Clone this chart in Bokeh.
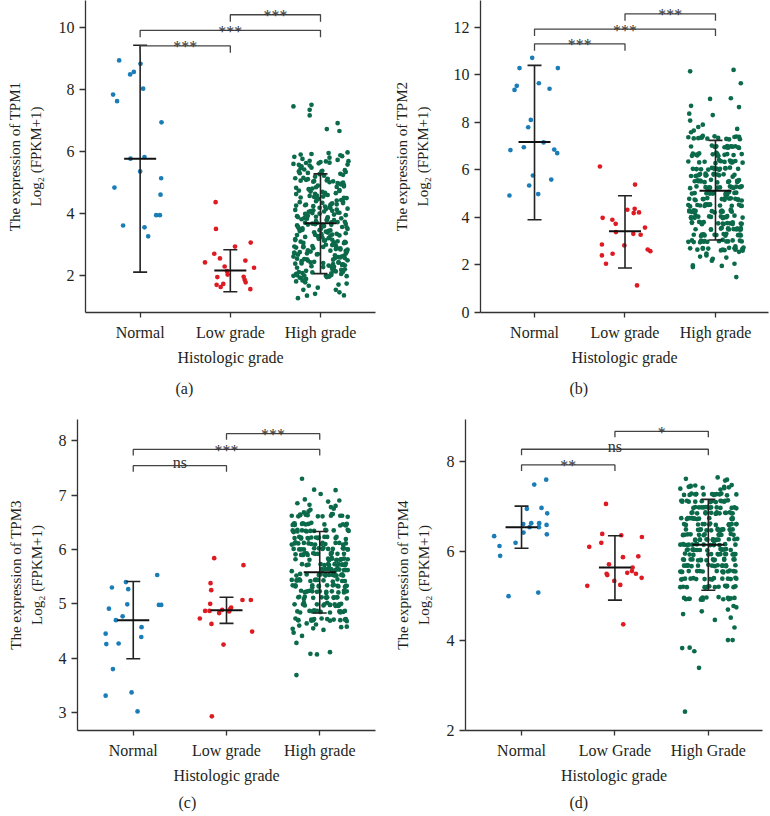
from bokeh.plotting import figure
from bokeh.layouts import column, row
from bokeh.models import Range1d, FixedTicker, Label, Title
from bokeh.embed import file_html
from bokeh.resources import INLINE

# ---------------- data ----------------
GROUPS = ["Normal", "Low grade", "High grade"]
GROUPS_D = ["Normal", "Low Grade", "High Grade"]
GENES = ["TPM1", "TPM2", "TPM3", "TPM4"]
CAPTIONS = ["(a)", "(b)", "(c)", "(d)"]
X_TITLE = "Histologic grade"

# panel (a) TPM1
N_A_Y = [8.93, 8.82, 8.48, 8.56, 8.02, 7.83, 7.62, 6.94, 5.77, 5.82, 5.36, 5.14, 4.84, 4.61, 3.95, 3.95, 3.62, 3.56, 3.27]
N_A_DX = [-0.233, 0.004, -0.111, -0.07, 0.033, -0.30, -0.256, 0.237, -0.107, 0.048, 0.0, 0.233, -0.285, 0.226, 0.178, 0.219, -0.189, 0.048, 0.089]
L_A_Y = [4.37, 3.51, 2.94, 3.07, 2.71, 2.56, 2.43, 2.49, 2.30, 2.26, 2.15, 1.96, 1.97, 1.87, 1.74, 1.79, 1.71, 1.64, 1.57, 2.04]
L_A_DX = [-0.163, -0.159, 0.052, 0.226, -0.178, -0.115, -0.281, 0.167, -0.063, 0.263, -0.037, -0.144, 0.148, 0.159, -0.078, 0.170, -0.152, -0.107, 0.222, -0.03]
H_A_Y = [
    3.72, 1.28, 4.55, 2.21, 5.03, 2.95, 3.30, 5.62, 2.58, 4.12, 1.96, 3.51, 4.79, 2.36, 3.90, 5.80, 3.10, 4.30, 2.75, 5.35,
    2.16, 4.34, 5.92, 3.14, 1.75, 4.74, 2.52, 3.66, 5.28, 2.01, 3.87, 2.91, 4.98, 3.47, 2.71, 5.70, 4.07, 2.40, 3.33, 4.51,
    4.81, 2.60, 7.45, 3.29, 1.36, 5.38, 2.19, 3.92, 2.97, 4.58, 2.33, 3.53, 5.69, 2.78, 4.15, 1.94, 3.08, 5.05, 3.74, 4.27,
    3.49, 5.85, 2.39, 4.09, 1.62, 3.11, 5.31, 2.77, 4.52, 2.00, 3.68, 4.76, 2.55, 5.64, 2.14, 3.86, 4.35, 2.94, 5.00, 3.32,
    2.24, 7.34, 3.95, 1.85, 4.60, 2.68, 3.35, 5.27, 2.06, 4.29, 3.13, 5.58, 2.89, 3.64, 4.83, 2.42, 4.06, 5.07, 3.44, 2.57,
    4.40, 1.37, 3.06, 5.95, 2.62, 3.79, 2.31, 4.96, 3.55, 2.12, 5.40, 2.82, 4.18, 3.26, 5.73, 2.47, 4.67, 1.99, 3.71, 2.99,
    3.62, 2.28, 6.66, 4.71, 1.55, 3.18, 5.12, 2.69, 4.38, 3.84, 2.03, 5.46, 2.50, 3.40, 4.13, 2.92, 5.66, 2.35, 4.57, 3.00,
    5.88, 2.73, 4.21, 1.79, 3.37, 4.90, 2.18, 3.58, 5.22, 2.44, 4.02, 3.16, 5.52, 2.64, 3.93, 1.97, 4.63, 2.86, 3.27, 4.44,
    2.09, 3.81, 7.16, 4.50, 1.42, 2.99, 5.36, 3.24, 4.73, 2.54, 3.46, 5.60, 2.37, 4.24, 3.02, 5.09, 2.80, 3.70, 4.04, 2.26,
    4.62, 1.68, 3.57, 5.90, 2.30, 4.19, 2.84, 5.15, 3.39, 2.06, 4.86, 3.76, 2.59, 5.48, 3.09, 4.37, 2.41, 3.97, 2.72, 5.01,
    3.15, 6.91, 2.45, 4.88, 1.90, 3.61, 2.22, 5.30, 2.79, 4.08, 3.42, 5.76, 2.61, 4.48, 3.85, 2.02, 4.28, 2.96, 3.67, 5.11,
    2.66, 4.45, 1.47, 5.83, 3.21, 3.99, 2.13, 5.55, 4.70, 2.90, 3.52, 2.38, 5.19, 4.16, 1.93, 3.78, 2.53, 4.92, 3.28, 4.31,
    5.06, 2.34, 7.50, 3.60, 1.72, 4.26, 2.81, 5.42, 3.07, 4.54, 2.17, 3.89, 5.68, 2.63, 4.78, 3.34, 2.00, 3.73, 4.11, 2.88,
    3.88, 1.55, 5.97, 2.49, 4.66, 3.19, 5.25, 2.76, 4.33, 2.11, 3.56, 5.63, 2.93, 4.03, 3.31, 1.99, 4.85, 2.57, 3.48, 5.04,
    2.43, 4.94, 1.82, 6.72, 3.25, 4.42, 2.70, 5.34, 3.82, 2.08, 4.64, 3.05, 5.57, 2.29, 3.65, 4.23, 2.85, 5.14, 3.45, 4.00,
]
MEAN_A = [5.77, 2.17, 3.69]
LO_A = [2.12, 1.49, 2.07]
HI_A = [9.42, 2.84, 5.28]
SIG_A = ["***", "***", "***"]

# panel (b) TPM2
N_B_Y = [10.71, 10.28, 10.28, 9.64, 9.53, 9.36, 9.41, 8.10, 7.79, 7.15, 6.83, 6.95, 6.85, 6.70, 5.76, 5.34, 5.59, 4.92, 4.98]
N_B_DX = [-0.026, -0.166, 0.258, 0.048, -0.196, -0.221, 0.166, -0.041, -0.070, 0.100, -0.266, -0.118, 0.218, 0.251, -0.018, -0.059, 0.185, -0.277, 0.041]
L_B_Y = [6.14, 5.38, 3.98, 3.90, 3.73, 4.32, 4.36, 4.18, 4.21, 3.57, 3.38, 3.31, 3.27, 2.86, 2.82, 2.65, 2.58, 2.40, 2.47, 2.05, 1.14]
L_B_DX = [-0.277, 0.111, -0.247, -0.140, -0.103, 0.026, 0.107, 0.096, 0.155, 0.221, -0.100, 0.092, 0.173, -0.255, -0.007, 0.251, 0.280, -0.255, -0.137, -0.210, 0.133]
H_B_Y = [
    5.05, 1.91, 6.60, 3.28, 4.52, 7.33, 2.70, 5.80, 3.75, 10.14, 4.27, 6.30, 2.98, 5.49, 4.02, 6.95, 3.50, 5.27, 4.78, 6.05,
    3.02, 5.53, 2.40, 6.38, 4.71, 7.65, 3.54, 5.00, 2.64, 6.69, 4.24, 5.74, 3.79, 7.41, 4.49, 3.24, 6.00, 5.30, 4.05, 6.92,
    4.81, 10.20, 2.97, 6.07, 3.71, 5.25, 1.49, 6.59, 4.33, 7.02, 3.30, 5.56, 2.73, 4.55, 6.36, 3.98, 7.28, 5.03, 3.48, 5.82,
    6.28, 3.53, 8.07, 4.96, 2.26, 5.71, 3.27, 6.66, 4.09, 2.61, 5.22, 7.38, 3.03, 4.74, 6.99, 3.81, 5.47, 4.29, 6.04, 4.55,
    2.99, 4.48, 9.64, 5.76, 3.74, 1.98, 6.98, 4.21, 5.29, 3.22, 6.41, 2.66, 5.06, 7.30, 3.97, 6.62, 4.77, 3.56, 5.52, 6.09,
    5.58, 2.55, 7.80, 4.00, 6.35, 3.49, 5.01, 2.78, 6.71, 4.30, 3.25, 7.43, 4.84, 5.83, 3.72, 6.03, 4.50, 5.31, 2.95, 6.94,
    3.79, 6.57, 2.05, 5.27, 9.01, 4.46, 3.05, 6.08, 4.73, 7.36, 3.31, 5.74, 2.68, 5.02, 6.31, 4.03, 6.96, 3.52, 5.48, 4.24,
    6.99, 4.25, 2.62, 5.55, 3.49, 8.30, 4.79, 6.04, 3.00, 5.24, 7.31, 3.76, 6.64, 4.53, 2.71, 5.81, 4.01, 6.33, 3.27, 5.04,
    4.52, 1.96, 6.34, 3.73, 8.98, 5.30, 2.96, 6.67, 4.07, 5.79, 3.23, 7.37, 4.76, 2.69, 5.49, 6.02, 3.55, 4.26, 6.97, 5.00,
    5.26, 3.29, 7.72, 4.72, 2.31, 6.05, 3.99, 5.53, 2.65, 6.98, 4.49, 3.48, 6.37, 5.77, 3.02, 4.22, 7.34, 5.07, 3.78, 6.63,
    2.70, 6.32, 4.04, 8.64, 5.51, 3.26, 7.00, 4.75, 2.99, 5.84, 3.53, 6.61, 4.28, 5.03, 7.40, 3.77, 6.06, 4.55, 5.28, 2.68,
    6.39, 2.18, 5.03, 8.36, 3.72, 4.50, 6.95, 3.00, 5.80, 4.24, 7.32, 3.51, 5.25, 2.66, 6.03, 4.77, 3.28, 5.57, 6.65, 4.01,
    4.27, 7.29, 2.48, 5.77, 3.51, 8.69, 4.98, 6.31, 3.24, 5.26, 2.72, 6.68, 4.04, 5.54, 3.80, 6.99, 4.52, 3.03, 6.01, 4.78,
    3.97, 5.52, 2.60, 7.90, 4.80, 6.07, 3.25, 5.02, 6.66, 2.97, 4.48, 7.35, 3.75, 5.79, 4.23, 6.33, 3.50, 5.27, 2.64, 6.93,
    5.76, 3.49, 7.58, 4.27, 2.35, 6.36, 5.00, 3.74, 6.62, 2.99, 4.53, 7.39, 3.27, 5.51, 4.77, 6.04, 2.70, 5.23, 4.00, 6.97,
]
MEAN_B = [7.17, 3.42, 5.12]
LO_B = [3.90, 1.87, 3.05]
HI_B = [10.39, 4.91, 7.24]
SIG_B = ["***", "***", "***"]

# panel (c) TPM3
N_C_Y = [5.40, 5.30, 5.27, 5.53, 4.91, 4.99, 4.98, 4.98, 4.77, 4.70, 4.57, 4.45, 4.39, 4.26, 4.27, 3.80, 3.31, 3.37, 3.02]
N_C_DX = [-0.079, -0.229, -0.054, 0.257, -0.261, -0.064, 0.275, 0.300, -0.114, -0.186, 0.089, -0.296, 0.086, -0.289, -0.157, -0.218, -0.296, -0.018, 0.046]
L_C_Y = [5.84, 5.71, 5.38, 5.25, 5.00, 5.07, 5.07, 4.87, 4.87, 4.89, 4.93, 4.90, 4.83, 4.73, 4.63, 4.49, 4.25, 2.93, 4.86]
L_C_DX = [-0.132, 0.182, -0.171, -0.164, -0.175, 0.171, 0.261, -0.229, -0.182, -0.046, 0.050, 0.036, -0.079, -0.286, -0.161, 0.275, -0.032, -0.157, 0.029]
H_C_Y = [
    5.64, 3.69, 6.12, 4.71, 5.34, 7.30, 4.86, 5.92, 4.99, 6.47, 5.11, 6.00, 5.23, 6.62, 5.44, 5.80, 6.23, 5.52, 6.35, 5.73,
    5.21, 6.09, 4.08, 5.71, 4.68, 6.36, 5.41, 7.10, 4.84, 5.90, 5.02, 6.48, 5.33, 6.02, 5.62, 6.20, 4.97, 5.55, 6.65, 5.83,
    6.22, 4.96, 5.60, 4.11, 6.46, 5.12, 5.82, 4.73, 7.09, 5.44, 6.01, 5.24, 6.34, 4.87, 5.54, 6.61, 5.35, 5.93, 5.71, 6.12,
    4.85, 5.72, 6.33, 5.23, 4.07, 5.92, 6.64, 5.10, 5.45, 6.10, 4.69, 6.90, 5.32, 5.81, 6.21, 4.99, 5.64, 6.45, 5.52, 6.02,
    5.53, 6.47, 4.72, 6.00, 5.34, 4.28, 5.80, 6.22, 5.00, 6.92, 5.43, 6.60, 4.86, 5.63, 6.11, 5.21, 5.90, 6.35, 5.12, 5.73,
    6.09, 5.24, 4.41, 5.83, 6.62, 5.11, 6.34, 4.70, 5.54, 6.85, 5.42, 5.93, 4.98, 6.21, 5.70, 4.84, 6.46, 5.33, 6.00, 5.62,
    5.34, 6.01, 4.98, 6.82, 5.62, 4.47, 6.23, 5.44, 4.85, 6.64, 5.91, 5.13, 6.36, 4.70, 5.81, 6.47, 5.23, 5.72, 6.11, 5.52,
    6.44, 4.54, 5.71, 5.09, 6.19, 4.87, 6.75, 5.43, 6.03, 5.32, 4.71, 5.94, 6.63, 5.21, 6.33, 5.64, 4.99, 6.12, 5.53, 5.82,
    5.90, 5.20, 6.70, 4.58, 6.34, 5.52, 4.86, 6.10, 5.63, 6.48, 4.69, 5.44, 6.02, 5.30, 6.65, 4.97, 5.74, 6.22, 5.12, 5.82,
    4.99, 6.21, 5.54, 4.60, 6.78, 5.33, 6.00, 5.73, 4.72, 6.45, 5.12, 5.92, 6.62, 5.42, 4.87, 6.11, 5.63, 6.35, 5.22, 5.81,
    6.32, 5.45, 4.55, 6.02, 5.13, 7.02, 5.83, 4.70, 6.47, 5.24, 5.64, 6.20, 4.96, 6.61, 5.53, 5.91, 4.84, 6.10, 5.33, 5.71,
    5.55, 4.62, 6.12, 5.34, 6.88, 5.02, 6.46, 5.72, 4.73, 6.23, 5.43, 6.01, 4.88, 5.82, 6.64, 5.12, 6.34, 5.62, 5.22, 5.93,
    6.00, 5.31, 6.73, 4.52, 5.73, 6.21, 4.98, 5.90, 6.44, 5.11, 4.71, 5.52, 6.36, 5.42, 6.63, 4.85, 6.09, 5.64, 5.23, 5.81,
    5.12, 6.35, 5.62, 4.64, 6.80, 5.44, 6.02, 4.70, 5.84, 6.49, 5.23, 5.93, 6.61, 4.99, 6.13, 5.53, 4.86, 5.72, 6.22, 5.34,
    5.81, 4.57, 6.45, 5.22, 6.68, 5.63, 4.99, 6.11, 5.43, 6.62, 4.72, 5.92, 6.33, 5.12, 5.54, 6.23, 4.86, 6.01, 5.73, 5.32,
]
MEAN_C = [4.70, 4.88, 5.58]
LO_C = [3.99, 4.64, 4.83]
HI_C = [5.41, 5.12, 6.33]
SIG_C = ["ns", "***", "***"]

# panel (d) TPM4
N_D_Y = [7.60, 7.49, 6.95, 6.97, 6.85, 6.61, 6.63, 6.63, 6.54, 6.54, 6.59, 6.42, 6.38, 6.34, 6.19, 6.12, 5.90, 5.00, 5.08]
N_D_DX = [0.264, 0.136, 0.057, 0.214, 0.275, 0.018, 0.104, 0.189, 0.086, 0.186, 0.268, 0.021, 0.271, -0.293, -0.064, -0.236, -0.229, -0.139, 0.179]
L_D_Y = [7.06, 6.39, 6.36, 6.32, 6.10, 6.19, 5.87, 5.89, 5.71, 5.64, 5.56, 5.50, 5.47, 5.52, 5.50, 5.41, 5.34, 5.23, 5.25, 4.37]
L_D_DX = [-0.096, -0.136, 0.068, 0.289, -0.275, -0.146, 0.086, 0.250, -0.064, 0.189, 0.182, -0.089, -0.082, 0.132, 0.225, 0.286, -0.007, -0.296, 0.057, 0.089]
H_D_Y = [
    6.14, 2.42, 6.86, 5.20, 6.49, 7.45, 5.55, 6.27, 4.93, 7.13, 5.81, 6.61, 5.38, 6.03, 7.27, 5.69, 6.38, 5.94, 6.74, 6.97,
    5.92, 6.72, 3.40, 6.25, 5.41, 7.62, 6.04, 4.97, 6.59, 5.67, 7.10, 6.36, 5.22, 6.99, 5.82, 6.16, 7.28, 5.56, 6.47, 6.85,
    6.48, 5.23, 7.40, 5.93, 3.77, 6.62, 5.57, 6.15, 7.11, 5.38, 6.87, 4.94, 6.28, 5.80, 7.26, 6.03, 5.68, 6.98, 6.37, 6.74,
    5.70, 6.39, 3.84, 6.97, 5.19, 6.05, 7.47, 5.94, 6.74, 5.40, 6.26, 7.14, 4.96, 6.50, 5.83, 7.29, 6.14, 5.54, 6.85, 6.61,
    7.12, 5.56, 6.27, 3.85, 6.84, 5.95, 7.58, 5.21, 6.60, 6.04, 5.37, 6.96, 4.92, 6.37, 5.82, 7.25, 6.16, 5.67, 6.72, 6.49,
    6.36, 4.02, 5.82, 7.28, 6.15, 5.39, 6.73, 7.43, 5.22, 6.59, 5.94, 6.99, 4.98, 6.47, 5.69, 7.11, 6.26, 5.55, 6.87, 6.05,
    5.81, 6.98, 4.02, 6.48, 7.44, 5.54, 6.25, 5.20, 6.73, 6.03, 7.27, 5.68, 6.61, 4.95, 7.13, 6.38, 5.93, 5.38, 6.85, 6.14,
    6.60, 5.37, 7.65, 6.04, 4.30, 6.87, 5.68, 6.37, 7.12, 5.22, 6.26, 5.94, 4.94, 6.74, 7.27, 5.56, 6.16, 5.81, 6.99, 6.48,
    5.93, 4.47, 6.72, 6.15, 7.42, 5.53, 6.49, 7.10, 5.39, 6.86, 6.26, 5.20, 6.97, 5.80, 7.29, 6.03, 4.96, 6.38, 5.67, 6.61,
    6.27, 7.28, 4.52, 5.69, 6.85, 6.02, 5.39, 7.46, 6.59, 5.21, 6.16, 6.98, 4.93, 6.37, 5.82, 7.13, 5.94, 5.55, 6.73, 6.48,
    7.11, 5.94, 4.66, 6.49, 5.40, 6.74, 7.38, 6.14, 5.22, 6.60, 5.80, 7.26, 6.04, 4.97, 6.87, 5.68, 6.37, 5.56, 6.98, 6.25,
    5.55, 6.61, 4.70, 7.13, 6.26, 5.82, 7.48, 6.03, 5.38, 6.86, 5.68, 6.48, 4.92, 7.27, 6.15, 5.20, 6.73, 5.93, 6.99, 6.38,
    6.04, 4.78, 6.98, 5.68, 7.60, 6.37, 5.21, 6.74, 5.93, 7.12, 6.49, 5.39, 6.16, 4.95, 7.28, 6.60, 5.55, 6.86, 5.81, 6.27,
    6.84, 5.39, 4.75, 6.26, 7.41, 5.80, 6.61, 5.20, 7.13, 6.03, 5.69, 6.97, 6.47, 4.96, 7.26, 5.94, 6.15, 5.56, 6.74, 6.37,
    5.68, 6.49, 4.60, 7.27, 6.15, 5.23, 6.85, 5.94, 7.44, 6.38, 5.55, 6.72, 4.93, 6.04, 7.11, 5.82, 6.60, 5.38, 6.98, 6.26,
]
MEAN_D = [6.54, 5.64, 6.15]
LO_D = [6.07, 4.91, 5.13]
HI_D = [7.01, 6.35, 7.16]
SIG_D = ["**", "ns", "*"]

# horizontal jitter of the high-grade points (read as spread, shared by panels)
JIT_HIGH = [
    0.12, -0.25, 0.03, 0.27, -0.08, -0.19, 0.21, -0.02, 0.16, -0.28, 0.07, 0.30, -0.13, 0.24, -0.05, 0.10, -0.22, 0.18, -0.29, 0.01,
    -0.16, 0.25, -0.10, 0.05, 0.29, -0.24, 0.14, -0.06, 0.22, -0.18, 0.08, -0.27, 0.19, -0.01, 0.28, -0.12, 0.04, -0.21, 0.13, 0.26,
    -0.09, 0.20, -0.30, 0.11, -0.15, 0.02, 0.23, -0.26, 0.17, -0.04, 0.09, -0.20, 0.31, -0.11, 0.06, -0.23, 0.15, -0.07, 0.27, -0.17,
    0.00, 0.24, -0.28, 0.13, -0.03, 0.19, -0.14, 0.29, -0.22, 0.06, -0.09, 0.21, -0.26, 0.10, 0.17, -0.18, 0.02, -0.29, 0.25, -0.06,
    0.14, -0.12, 0.28, -0.20, 0.08, -0.25, 0.18, -0.01, 0.23, -0.16, 0.04, 0.30, -0.08, 0.12, -0.27, 0.20, -0.13, 0.07, -0.23, 0.16,
    -0.05, 0.26, -0.19, 0.09, -0.30, 0.15, -0.10, 0.22, 0.01, -0.24, 0.27, -0.14, 0.11, -0.02, 0.19, -0.21, 0.05, 0.29, -0.17, 0.13,
    -0.26, 0.03, 0.21, -0.11, 0.17, -0.28, 0.08, -0.04, 0.25, -0.15, 0.12, -0.22, 0.30, -0.07, 0.18, -0.19, 0.00, 0.24, -0.12, 0.06,
    0.22, -0.29, 0.10, -0.17, 0.28, -0.03, 0.15, -0.25, 0.04, 0.20, -0.09, 0.13, -0.21, 0.26, -0.14, 0.09, -0.27, 0.17, -0.01, 0.23,
    -0.20, 0.07, -0.12, 0.29, -0.06, 0.16, -0.24, 0.02, 0.21, -0.18, 0.11, -0.30, 0.25, -0.08, 0.14, -0.16, 0.28, -0.04, 0.19, -0.26,
    0.05, -0.13, 0.24, -0.22, 0.12, -0.01, 0.30, -0.19, 0.08, -0.27, 0.18, -0.05, 0.22, -0.10, 0.27, -0.23, 0.03, 0.15, -0.15, 0.10,
    -0.28, 0.19, -0.07, 0.26, -0.16, 0.01, 0.13, -0.23, 0.29, -0.11, 0.06, -0.20, 0.17, -0.02, 0.23, -0.26, 0.11, -0.09, 0.28, -0.14,
    0.16, -0.04, 0.21, -0.29, 0.09, -0.17, 0.25, -0.12, 0.02, 0.18, -0.24, 0.14, -0.06, 0.30, -0.21, 0.07, -0.15, 0.26, -0.03, 0.12,
    -0.22, 0.27, -0.10, 0.04, 0.20, -0.27, 0.11, -0.18, 0.28, -0.07, 0.15, -0.25, 0.06, 0.24, -0.13, 0.01, -0.30, 0.19, -0.08, 0.22,
    0.08, -0.19, 0.30, -0.14, 0.17, -0.02, 0.25, -0.23, 0.13, -0.09, 0.29, -0.16, 0.03, 0.21, -0.26, 0.10, -0.05, 0.27, -0.20, 0.14,
    -0.11, 0.23, -0.27, 0.07, -0.17, 0.18, -0.03, 0.28, -0.21, 0.12, -0.06, 0.26, -0.24, 0.15, -0.14, 0.05, 0.22, -0.28, 0.09, -0.01,
]

PAIRS = [(0, 1), (0, 2), (1, 2)]

# ---------------- layout / style ----------------
FONT = "Liberation Serif"
TXT = "#231f20"
AX = "#333333"
COLORS = ["#1a7db8", "#de1b22", "#0b6a49"]
FIG_W, FIG_H = 385, 408

PANELS = [
    dict(gene=GENES[0], cap=CAPTIONS[0], labels=GROUPS, ys=[N_A_Y, L_A_Y, H_A_Y], dxs=[N_A_DX, L_A_DX, JIT_HIGH],
         mean=MEAN_A, lo=LO_A, hi=HI_A, sig=SIG_A, ticks=[2, 4, 6, 8, 10],
         ox=0, oy=0, left=85, top=0, fw=290, fh=312, xr=(-0.606, 2.61), yr=(0.82, 10.858),
         lev=[9.40, 9.90, 10.40], drop_px=7, ylab_standoff=12, xlab_standoff=5, cap_x=184, cap_standoff=18),
    dict(gene=GENES[1], cap=CAPTIONS[1], labels=GROUPS, ys=[N_B_Y, L_B_Y, H_B_Y], dxs=[N_B_DX, L_B_DX, JIT_HIGH],
         mean=MEAN_B, lo=LO_B, hi=HI_B, sig=SIG_B, ticks=[0, 2, 4, 6, 8, 10, 12],
         ox=385, oy=0, left=480, top=0, fw=288, fh=312, xr=(-0.597, 2.586), yr=(0.0, 13.12),
         lev=[11.30, 11.92, 12.56], drop_px=7, ylab_standoff=20, xlab_standoff=5, cap_x=578, cap_standoff=18),
    dict(gene=GENES[2], cap=CAPTIONS[2], labels=GROUPS, ys=[N_C_Y, L_C_Y, H_C_Y], dxs=[N_C_DX, L_C_DX, JIT_HIGH],
         mean=MEAN_C, lo=LO_C, hi=HI_C, sig=SIG_C, ticks=[3, 4, 5, 6, 7, 8],
         ox=0, oy=408, left=77, top=419, fw=298, fh=311, xr=(-0.598, 2.598), yr=(2.67, 8.39),
         lev=[7.54, 7.84, 8.13], drop_px=6, ylab_standoff=11, xlab_standoff=5, cap_x=187, cap_standoff=11),
    dict(gene=GENES[3], cap=CAPTIONS[3], labels=GROUPS_D, ys=[N_D_Y, L_D_Y, H_D_Y], dxs=[N_D_DX, L_D_DX, JIT_HIGH],
         mean=MEAN_D, lo=LO_D, hi=HI_D, sig=SIG_D, ticks=[2, 4, 6, 8],
         ox=385, oy=408, left=465, top=419, fw=297, fh=311, xr=(-0.600, 2.58), yr=(2.0, 8.944),
         lev=[7.93, 8.28, 8.68], drop_px=6, ylab_standoff=12, xlab_standoff=5, cap_x=578, cap_standoff=11),
]


def build(c):
    ml = c["left"] - c["ox"]
    mt = c["top"] - c["oy"]
    mr = FIG_W - ml - c["fw"]
    mb = FIG_H - mt - c["fh"]
    p = figure(width=FIG_W, height=FIG_H, output_backend="svg", toolbar_location=None,
               x_range=Range1d(*c["xr"]), y_range=Range1d(*c["yr"]),
               min_border_left=ml, min_border_right=mr, min_border_top=mt, min_border_bottom=mb)
    p.outline_line_color = None
    p.grid.visible = False
    p.background_fill_color = "white"
    p.border_fill_color = "white"

    for ax in (p.xaxis[0], p.yaxis[0]):
        ax.axis_line_color = AX
        ax.axis_line_width = 1.3
        ax.major_tick_line_color = AX
        ax.major_tick_line_width = 1.3
        ax.minor_tick_line_color = None
        ax.major_tick_in = 0
        ax.major_label_text_font = FONT
        ax.major_label_text_font_size = "16px"
        ax.major_label_text_color = TXT
        ax.axis_label_text_font = FONT
        ax.axis_label_text_font_style = "normal"
        ax.axis_label_text_color = TXT
    p.yaxis.ticker = FixedTicker(ticks=c["ticks"])
    p.yaxis.major_tick_out = 6
    p.yaxis.major_label_standoff = 5
    p.yaxis.axis_label = "The expression of " + c["gene"] + "\nLog\u2082 (FPKM+1)"
    p.yaxis.axis_label_text_font_size = "15px"
    p.yaxis.axis_label_text_line_height = 1.3
    p.yaxis.axis_label_standoff = c["ylab_standoff"]
    p.xaxis.ticker = FixedTicker(ticks=[0, 1, 2])
    p.xaxis.major_label_overrides = {i: lab for i, lab in enumerate(c["labels"])}
    p.xaxis.major_tick_out = 5
    p.xaxis.major_label_standoff = 6
    p.xaxis.axis_label = X_TITLE
    p.xaxis.axis_label_text_font_size = "16px"
    p.xaxis.axis_label_standoff = c["xlab_standoff"]

    # caption under the panel
    p.add_layout(Title(text=c["cap"], align="left", offset=c["cap_x"] - 9 - c["left"],
                       standoff=c["cap_standoff"], text_font=FONT, text_font_size="16px",
                       text_font_style="normal", text_color=TXT), "below")

    # points
    for gi, (ys, dxs, col) in enumerate(zip(c["ys"], c["dxs"], COLORS)):
        p.scatter([gi + d for d in dxs], ys, size=4.7, fill_color=col, line_color=None)

    # mean and error bars
    upp_x = (c["xr"][1] - c["xr"][0]) / c["fw"]
    mw = 16 * upp_x
    cw = 7 * upp_x
    g = [0, 1, 2]
    p.segment(g, c["lo"], g, c["hi"], line_color="#222222", line_width=1.6)
    p.segment([i - cw for i in g], c["hi"], [i + cw for i in g], c["hi"], line_color="#222222", line_width=1.6)
    p.segment([i - cw for i in g], c["lo"], [i + cw for i in g], c["lo"], line_color="#222222", line_width=1.6)
    p.segment([i - mw for i in g], c["mean"], [i + mw for i in g], c["mean"], line_color="#111111", line_width=2.0)

    # significance brackets
    upp_y = (c["yr"][1] - c["yr"][0]) / c["fh"]
    drop = c["drop_px"] * upp_y
    xs, ysb = [], []
    for (a, b), lv in zip(PAIRS, c["lev"]):
        xs.append([a, a, b, b])
        ysb.append([lv - drop, lv, lv, lv - drop])
    p.multi_line(xs, ysb, line_color="#444444", line_width=1.3)
    for (a, b), lv, s in zip(PAIRS, c["lev"], c["sig"]):
        off = 3 if s == "ns" else -1
        p.add_layout(Label(x=(a + b) / 2, y=lv + off * upp_y, text=s, text_font=FONT,
                           text_font_size="16px", text_color="#333333",
                           text_align="center", text_baseline="alphabetic"))
    return p


figs = [build(c) for c in PANELS]
layout = column(row(figs[0], figs[1]), row(figs[2], figs[3]))
open("out.html", "w").write(file_html(layout, INLINE))
